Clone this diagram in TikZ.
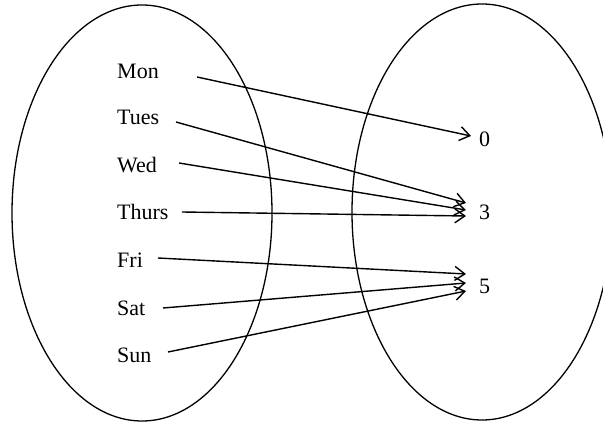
\documentclass[tikz,border=0pt]{standalone}
\usepackage{fontspec}
\setmainfont{Liberation Serif}
\usetikzlibrary{arrows.meta}
\begin{document}
\begin{tikzpicture}[x=1pt,y=-1pt,
  lbl/.style={inner sep=0pt,anchor=base west,font=\fontsize{22}{26}\selectfont},
  arr/.style={line width=1.4pt,-{Straight Barb[length=10pt,width=14pt,line width=1.4pt]}},
  set/.style={line width=1.3pt}]
\useasboundingbox (0,0) rectangle (603,425);
\clip (0,0) rectangle (603,425);
\draw[set] (142,213) ellipse [x radius=130,y radius=208];
\draw[set] (482,212) ellipse [x radius=130,y radius=208];
\node[lbl] (mon) at (117,78.5) {Mon};
\node[lbl] (tue) at (117,125) {Tues};
\node[lbl] (wed) at (117,172.5) {Wed};
\node[lbl] (thu) at (117,220) {Thurs};
\node[lbl] (fri) at (117,267) {Fri};
\node[lbl] (sat) at (117,315) {Sat};
\node[lbl] (sun) at (117,362) {Sun};
\node[lbl] (zero) at (479,147) {0};
\node[lbl] (three) at (479,219) {3};
\node[lbl] (five) at (479,293) {5};
\coordinate (smon) at (197,77);
\coordinate (stue) at (176,122);
\coordinate (swed) at (179,163);
\coordinate (sthu) at (182,212);
\coordinate (sfri) at (158,258);
\coordinate (ssat) at (163,308);
\coordinate (ssun) at (168,352);
\coordinate (t0) at (471,136);
\coordinate (t3a) at (466,203);
\coordinate (t3b) at (466,210);
\coordinate (t3c) at (466,216);
\coordinate (t5a) at (466,274);
\coordinate (t5b) at (466,283);
\coordinate (t5c) at (466,291);
\draw[arr] (smon) -- (t0);
\draw[arr] (stue) -- (t3a);
\draw[arr] (swed) -- (t3b);
\draw[arr] (sthu) -- (t3c);
\draw[arr] (sfri) -- (t5a);
\draw[arr] (ssat) -- (t5b);
\draw[arr] (ssun) -- (t5c);
\end{tikzpicture}
\end{document}
